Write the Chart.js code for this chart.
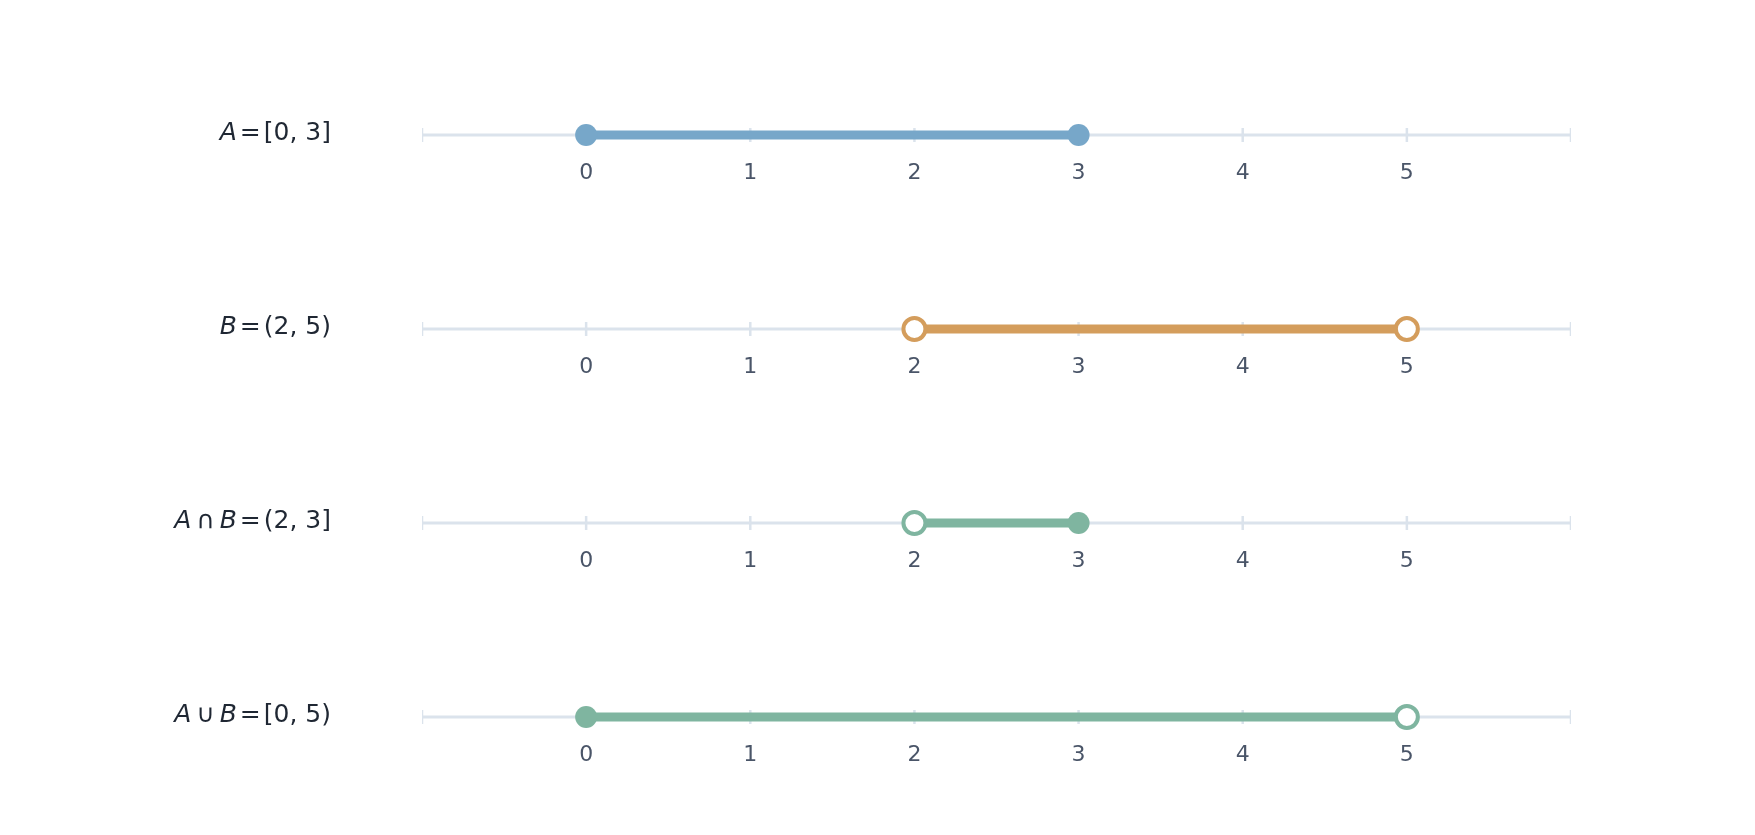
<!DOCTYPE html>
<html><head><meta charset="utf-8">
<script src="https://cdn.jsdelivr.net/npm/chart.js@4"></script>
<style>html,body{margin:0;background:#fff}#c{display:block}</style>
</head><body>
<canvas id="c" width="1755" height="835"></canvas>
<script>
const rowLetters = [["A"],["B"],["A","∩","B"],["A","∪","B"]];
const rowIntervals = ["[0, 3]","(2, 5)","(2, 3]","[0, 5)"];
const starts = [0, 2, 2, 0];
const ends = [3, 5, 3, 5];
const startClosed = [true, false, false, true];
const endClosed = [true, false, true, false];
const colors = ["#77a7c9", "#d49d5c", "#7fb5a0", "#7fb5a0"];
const axisTicks = [-1, 0, 1, 2, 3, 4, 5, 6];
const tickLabels = ["", "0", "1", "2", "3", "4", "5", ""];
const AXIS = "#dbe3ec";

const datasets = [];
for (let i = 0; i < 4; i++) {
  datasets.push({type:'line', data:[{x:axisTicks[0],y:i},{x:axisTicks[axisTicks.length-1],y:i}],
    borderColor:AXIS, borderWidth:3, pointRadius:0, order:3});
  datasets.push({type:'scatter', data:axisTicks.map(t=>({x:t,y:i})), pointStyle:'line', rotation:90,
    radius:7, pointRadius:7, borderColor:AXIS, pointBorderColor:AXIS, borderWidth:2.5, pointBorderWidth:2.5, order:2});
  datasets.push({type:'line', data:[{x:starts[i],y:i},{x:ends[i],y:i}], borderColor:colors[i], borderWidth:9,
    pointRadius:11, pointHoverRadius:11, pointBorderWidth:[startClosed[i]?0:4, endClosed[i]?0:4],
    pointBorderColor:colors[i],
    pointBackgroundColor:[startClosed[i]?colors[i]:'#fff', endClosed[i]?colors[i]:'#fff'], order:1});
}

const labelPlugin = {
  id:'labels',
  afterDatasetsDraw(chart){
    const ctx = chart.ctx, xs = chart.scales.x, ys = chart.scales.y;
    ctx.save();
    ctx.textBaseline = 'middle';
    for (let i = 0; i < 4; i++) {
      const yp = ys.getPixelForValue(i);
      ctx.fillStyle = '#4a5568';
      ctx.font = '22px "DejaVu Sans"';
      ctx.textAlign = 'center';
      axisTicks.forEach((t,k)=>{ if (tickLabels[k]) ctx.fillText(tickLabels[k], xs.getPixelForValue(t), yp + 38); });
      // row label, right aligned at x=331
      ctx.fillStyle = '#1f2733';
      ctx.textAlign = 'left';
      const parts = [];
      rowLetters[i].forEach(p => parts.push({t:p, f: (p==="A"||p==="B") ? 'italic 25px "DejaVu Sans"' : '25px "DejaVu Sans"', pad: (p==="A"||p==="B")?0:5}));
      parts.push({t:"=", f:'25px "DejaVu Sans"', pad:3});
      parts.push({t:rowIntervals[i], f:'25px "DejaVu Sans"', pad:0});
      let w = 0;
      parts.forEach(p=>{ctx.font=p.f; p.w=ctx.measureText(p.t).width; w+=p.w+2*p.pad;});
      let x = 331 - w;
      parts.forEach(p=>{ctx.font=p.f; x+=p.pad; ctx.fillText(p.t, x, yp-2); x+=p.w+p.pad;});
    }
    ctx.restore();
  }
};

new Chart(document.getElementById('c'), {
  data:{datasets},
  options:{
    responsive:false, animation:false,
    layout:{padding:{left:422, right:184, top:38, bottom:21}},
    plugins:{legend:{display:false}, tooltip:{enabled:false}},
    scales:{
      x:{type:'linear', min:-1, max:6, display:false},
      y:{type:'linear', min:-0.5, max:3.5, reverse:true, display:false}
    }
  },
  plugins:[labelPlugin]
});
</script>
</body></html>
